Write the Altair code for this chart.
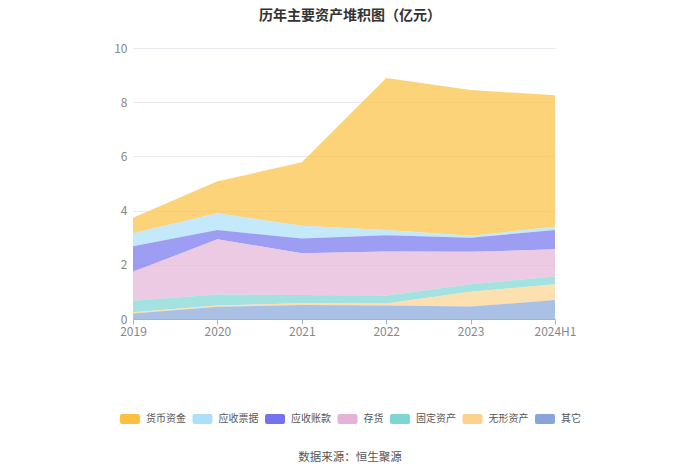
import altair as alt
import pandas as pd

years = ["2019", "2020", "2021", "2022", "2023", "2024H1"]
series = ["货币资金", "应收票据", "应收账款", "存货", "固定资产", "无形资产", "其它"]
colors = ["#FCC041", "#ABE0F8", "#7373F0", "#E5B3D8", "#7CD6D3", "#FBD38F", "#87A5DA"]

cash = [0.58, 1.18, 2.34, 5.61, 5.38, 4.86]
notes = [0.48, 0.62, 0.47, 0.19, 0.07, 0.12]
receivables = [0.94, 0.34, 0.54, 0.60, 0.52, 0.71]
inventory = [1.07, 2.04, 1.54, 1.62, 1.20, 1.00]
fixed = [0.42, 0.40, 0.31, 0.30, 0.27, 0.29]
intangible = [0.05, 0.05, 0.06, 0.07, 0.55, 0.58]
other = [0.20, 0.45, 0.52, 0.50, 0.46, 0.70]

values = [cash, notes, receivables, inventory, fixed, intangible, other]
rows = []
for i, (name, vals) in enumerate(zip(series, values)):
    for y, v in zip(years, vals):
        rows.append({"year": y, "series": name, "value": v, "order": len(series) - 1 - i})
df = pd.DataFrame(rows)

font = "Noto Sans CJK SC"
rounded = ("M-0.8,-0.5 L0.8,-0.5 Q1,-0.5 1,-0.3 L1,0.3 Q1,0.5 0.8,0.5 "
           "L-0.8,0.5 Q-1,0.5 -1,0.3 L-1,-0.3 Q-1,-0.5 -0.8,-0.5 Z")

area = alt.Chart(df).mark_area(fillOpacity=0.7, strokeWidth=0).encode(
    x=alt.X("year:N", sort=years, scale=alt.Scale(type="point", padding=0),
            axis=alt.Axis(title=None, labelAngle=0, domainColor="#A9B3C8", tickColor="#A9B3C8",
                          tickSize=5, labelColor="#888888", labelFontSize=12, labelPadding=2,
                          labelFont=font, grid=False)),
    y=alt.Y("value:Q", stack="zero", scale=alt.Scale(domain=[0, 10]),
            axis=alt.Axis(title=None, values=[0, 2, 4, 6, 8, 10], domain=False, ticks=False,
                          gridColor="#E9E9EF", labelColor="#888888", labelFontSize=12,
                          labelPadding=6, labelFont=font)),
    color=alt.Color("series:N", sort=series,
                    scale=alt.Scale(domain=series, range=colors),
                    legend=alt.Legend(title=None, orient="none", direction="horizontal",
                                      legendX=-13, legendY=361, columns=7,
                                      symbolType=rounded, symbolSize=400, symbolOpacity=1,
                                      symbolStrokeWidth=0, labelFontSize=10, labelColor="#555555",
                                      labelFont=font, columnPadding=6.5, labelOffset=6)),
    order=alt.Order("order:Q", sort="ascending"),
)

source = alt.Chart(pd.DataFrame({"t": ["数据来源：恒生聚源"]})).mark_text(
    fontSize=11.5, color="#555555", font=font, align="center", baseline="middle"
).encode(text="t:N", x=alt.value(217), y=alt.value(410))

chart = alt.layer(area, source).properties(
    width=422, height=271,
    title=alt.TitleParams("历年主要资产堆积图（亿元）", fontSize=14, font=font, fontWeight="bold",
                          color="#333333", offset=19, dx=6),
    autosize=alt.AutoSizeParams(type="none"),
    padding={"left": 125, "top": 40, "right": 137, "bottom": 145},
).configure_view(stroke=None)

chart.save("out.html", embed_options={"renderer": "svg", "actions": False})
